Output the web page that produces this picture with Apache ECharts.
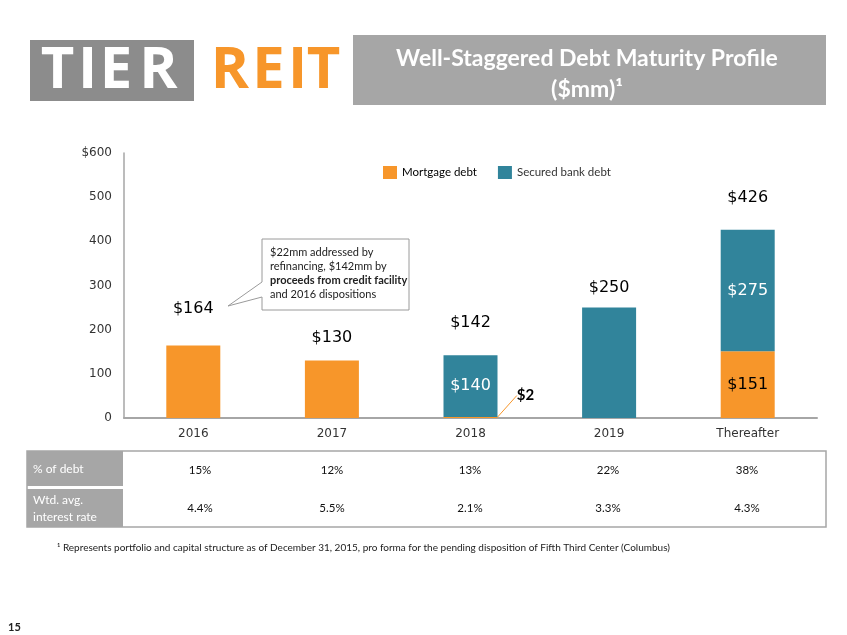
<!DOCTYPE html>
<html>
<head>
<meta charset="utf-8">
<script src="https://cdn.jsdelivr.net/npm/echarts@6/dist/echarts.min.js"></script>
<style>html,body{margin:0;padding:0;background:#fff;}#c{width:847px;height:635px;}</style>
</head>
<body>
<div id="c"></div>
<script>
const categories = ['2016', '2017', '2018', '2019', 'Thereafter'];
const mortgage = [164, 130, 2, 0, 151];
const secured = [0, 0, 140, 250, 275];
const totals = [164, 130, 142, 250, 426];
const pctDebt = ['15%', '12%', '13%', '22%', '38%'];
const rates = ['4.4%', '5.5%', '2.1%', '3.3%', '4.3%'];
const yTicks = [0, 100, 200, 300, 400, 500, 600];

const ORANGE = '#F7962A', TEAL = '#31849B', GREY = '#A6A6A6';
const totalOffsets = [-24, -10, -19, -7, -19];

const chart = echarts.init(document.getElementById('c'));

const mortgageData = mortgage.map((v, i) => {
  const item = { value: v, label: { show: false } };
  if (i === 4) item.label = { show: true, position: 'inside', color: '#000', fontSize: 16, fontFamily: 'DejaVu Sans', formatter: '$' + v };
  if (i === 2) {
    item.label = { show: true, position: 'inside', color: '#000', fontSize: 15, fontWeight: 'bold', fontFamily: 'Lato', formatter: '$' + v };
    item.labelLine = { show: true, lineStyle: { color: ORANGE, width: 1 } };
  }
  return item;
});
const securedData = secured.map((v, i) => {
  const item = { value: v, label: { show: false } };
  if (i === 2 || i === 4) item.label = { show: true, position: 'inside', color: '#fff', fontSize: 16, fontFamily: 'DejaVu Sans', formatter: '$' + v };
  return item;
});
const totalData = totals.map((t, i) => ({
  value: 0,
  label: { show: true, position: 'top', offset: [0, totalOffsets[i]], formatter: '$' + t }
}));

// header / table graphics
const g = [];
g.push({ type: 'rect', shape: { x: 30, y: 40, width: 164, height: 61 }, style: { fill: '#8C8C8C' } });
const logoLetters = [
  ['T', 57.5, '#fff'], ['I', 87.5, '#fff'], ['E', 116, '#fff'], ['R', 158.5, '#fff'],
  ['R', 230, ORANGE], ['E', 268.5, ORANGE], ['I', 297.5, ORANGE], ['T', 323.5, ORANGE]
];
logoLetters.forEach(([ch, x, col]) => {
  g.push({ type: 'text', x: x, y: 71, style: { text: ch, fill: col, font: 'bold 58px "Open Sans"', align: 'center', verticalAlign: 'middle' } });
});
g.push({ type: 'rect', shape: { x: 353, y: 35, width: 473, height: 70 }, style: { fill: GREY } });
g.push({ type: 'text', x: 587, y: 59, style: { text: 'Well-Staggered Debt Maturity Profile', fill: '#fff', font: 'bold 23px Lato', align: 'center', verticalAlign: 'middle' } });
g.push({ type: 'text', x: 587, y: 90, style: { text: '($mm)¹', fill: '#fff', font: 'bold 23px Lato', align: 'center', verticalAlign: 'middle' } });

// callout
g.push({ type: 'polygon', shape: { points: [[262,239],[409,239],[409,310],[262,310],[262,297],[228,306],[262,282]] },
  style: { fill: '#fff', stroke: '#9A9A9A', lineWidth: 1 } });
const calloutLines = [
  ['$22mm addressed by', 'normal'],
  ['refinancing, $142mm by', 'normal'],
  ['proceeds from credit facility', 'bold'],
  ['and 2016 dispositions', 'normal']
];
calloutLines.forEach(([t, w], i) => {
  g.push({ type: 'text', x: 270, y: 252 + i * 14.3, style: { text: t, fill: '#222', font: w + ' 11px Lato', align: 'left', verticalAlign: 'middle' } });
});

// table
g.push({ type: 'rect', shape: { x: 27, y: 451, width: 799, height: 76 }, style: { fill: '#fff', stroke: GREY, lineWidth: 1.5 } });
g.push({ type: 'rect', shape: { x: 27, y: 451, width: 96, height: 35 }, style: { fill: GREY } });
g.push({ type: 'rect', shape: { x: 27, y: 489, width: 96, height: 38 }, style: { fill: GREY } });
g.push({ type: 'text', x: 33, y: 469, style: { text: '% of debt', fill: '#fff', font: '12px Lato', verticalAlign: 'middle' } });
g.push({ type: 'text', x: 33, y: 500, style: { text: 'Wtd. avg.', fill: '#fff', font: '12px Lato', verticalAlign: 'middle' } });
g.push({ type: 'text', x: 33, y: 517, style: { text: 'interest rate', fill: '#fff', font: '12px Lato', verticalAlign: 'middle' } });
const colX = [200, 332, 470, 608, 747];
pctDebt.forEach((t, i) => g.push({ type: 'text', x: colX[i], y: 470, style: { text: t, fill: '#111', font: '11.5px Lato', align: 'center', verticalAlign: 'middle' } }));
rates.forEach((t, i) => g.push({ type: 'text', x: colX[i], y: 508, style: { text: t, fill: '#111', font: '11.5px Lato', align: 'center', verticalAlign: 'middle' } }));

g.push({ type: 'text', x: 57, y: 548, style: { text: '¹ Represents portfolio and capital structure as of December 31, 2015, pro forma for the pending disposition of Fifth Third Center (Columbus)', fill: '#222', font: '10px Lato', verticalAlign: 'middle' } });
g.push({ type: 'text', x: 8, y: 627, style: { text: '15', fill: '#222', font: 'bold 11px Lato', verticalAlign: 'middle' } });

chart.setOption({
  animation: false,
  textStyle: { fontFamily: 'DejaVu Sans' },
  grid: { left: 124, right: 30, top: 153, bottom: 217, containLabel: false },
  legend: {
    data: ['Mortgage debt', 'Secured bank debt'],
    left: 383, top: 166, padding: 0, itemWidth: 14, itemHeight: 13, itemGap: 21, icon: 'rect',
    textStyle: { fontFamily: 'Lato', fontSize: 11.5, color: '#333', padding: [0, 0, 0, 0],
      rich: { b: { fontFamily: 'Lato', fontSize: 11.5, color: '#000' } } },
    formatter: n => n === 'Mortgage debt' ? '{b|' + n + '}' : n
  },
  xAxis: {
    type: 'category', data: categories,
    axisLine: { lineStyle: { color: GREY, width: 2 } },
    axisTick: { show: false },
    axisLabel: { color: '#333', fontSize: 12, fontFamily: 'DejaVu Sans', margin: 10 }
  },
  yAxis: {
    type: 'value', min: yTicks[0], max: yTicks[yTicks.length - 1], interval: 100,
    axisLine: { show: true, lineStyle: { color: GREY, width: 1.5 } },
    axisTick: { show: false },
    splitLine: { show: false },
    axisLabel: { color: '#333', fontSize: 12, fontFamily: 'DejaVu Sans', margin: 12,
      formatter: v => v === 600 ? '$600' : String(v) }
  },
  series: [
    { name: 'Mortgage debt', type: 'bar', stack: 'debt', barWidth: 54, data: mortgageData,
      itemStyle: { color: ORANGE },
      labelLayout: p => p.dataIndex === 2 ? { dx: 55, dy: -22 } : {} },
    { name: 'Secured bank debt', type: 'bar', stack: 'debt', barWidth: 54, data: securedData,
      itemStyle: { color: TEAL } },
    { name: 'Total', type: 'bar', stack: 'debt', barWidth: 54, data: totalData,
      itemStyle: { color: 'rgba(0,0,0,0)' },
      label: { color: '#000', fontSize: 16, fontFamily: 'DejaVu Sans' } }
  ],
  graphic: g
});
</script>
</body>
</html>
